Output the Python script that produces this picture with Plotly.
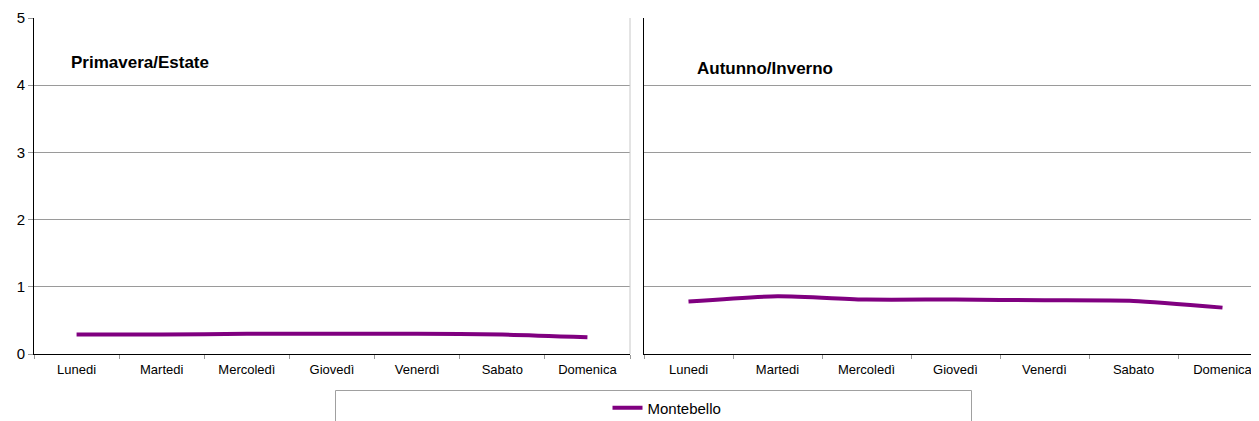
import plotly.graph_objects as go

days = ["Lunedi", "Martedi", "Mercoledì", "Giovedì", "Venerdì", "Sabato", "Domenica"]
spring_summer = [0.29, 0.29, 0.30, 0.30, 0.30, 0.29, 0.25]
autumn_winter = [0.78, 0.86, 0.81, 0.81, 0.80, 0.79, 0.69]
series_name = "Montebello"
panel_titles = ["Primavera/Estate", "Autunno/Inverno"]
y_ticks = [0, 1, 2, 3, 4, 5]

# page has an 8px body margin; work in page pixel coordinates
OFF = 8
W, H = 1259, 421
PL, PT, PR, PB = 34, 18, 1267, 354   # plot area in page pixels
L, T = PL - OFF, PT - OFF
R = (W + OFF) - PR
B = H - (PB - OFF)
pw, ph = PR - PL, PB - PT

def px_x(p):
    return (p - PL) / pw

def px_y(p):
    return (PB - p) / ph

color = "#800080"
font = "Liberation Sans, Arial, sans-serif"

fig = go.Figure()
fig.add_trace(go.Scatter(x=days, y=spring_summer, mode="lines", name=series_name,
                         line=dict(color=color, width=4, shape="spline", smoothing=0.6),
                         xaxis="x", yaxis="y", showlegend=True))
fig.add_trace(go.Scatter(x=days, y=autumn_winter, mode="lines", name=series_name,
                         line=dict(color=color, width=4, shape="spline", smoothing=0.6),
                         xaxis="x2", yaxis="y2", showlegend=False))

grid = "#9a9a9a"
xcommon = dict(type="category", range=[-0.5, 6.5], showline=True, linecolor="black", linewidth=1,
               ticks="outside", ticklen=4, tickcolor="#999999", tickson="boundaries",
               showgrid=False, zeroline=False, ticklabelstandoff=3,
               tickfont=dict(family=font, size=13, color="black"))
ycommon = dict(range=[0, 5], tickvals=y_ticks, showline=True, linecolor="black", linewidth=1,
               showgrid=True, gridcolor=grid, gridwidth=1, zeroline=False,
               tickfont=dict(family=font, size=15, color="black"))

fig.update_layout(
    width=W, height=H,
    margin=dict(l=L, r=R, t=T, b=B),
    paper_bgcolor="white", plot_bgcolor="white",
    xaxis=dict(domain=[0, px_x(630)], anchor="y", **xcommon),
    xaxis2=dict(domain=[px_x(644), 1], anchor="y2", **xcommon),
    yaxis=dict(anchor="x", ticks="outside", ticklen=5, tickcolor="#999999", **ycommon),
    yaxis2=dict(anchor="x2", ticks="", showticklabels=False, **ycommon),
    legend=dict(orientation="h", x=px_x(667), xanchor="center", y=px_y(408), yanchor="middle",
                font=dict(family=font, size=15, color="black"), bgcolor="rgba(0,0,0,0)",
                itemwidth=30),
    showlegend=True,
)

fig.add_annotation(text="<b>" + panel_titles[0] + "</b>", xref="paper", yref="paper",
                   x=px_x(69), y=px_y(63), xanchor="left", yanchor="middle", showarrow=False,
                   font=dict(family=font, size=17, color="black"))
fig.add_annotation(text="<b>" + panel_titles[1] + "</b>", xref="paper", yref="paper",
                   x=px_x(695), y=px_y(68), xanchor="left", yanchor="middle", showarrow=False,
                   font=dict(family=font, size=17, color="black"))

# left panel right border
fig.add_shape(type="line", xref="x domain", yref="y domain", x0=1, x1=1, y0=0, y1=1,
              line=dict(color="#c8c8c8", width=1))
# legend box
fig.add_shape(type="rect", xref="paper", yref="paper",
              x0=px_x(335.5), x1=px_x(971.5), y0=px_y(440), y1=px_y(390.5),
              line=dict(color="#a0a0a0", width=1), fillcolor="rgba(0,0,0,0)")

fig.write_html("out.html")
